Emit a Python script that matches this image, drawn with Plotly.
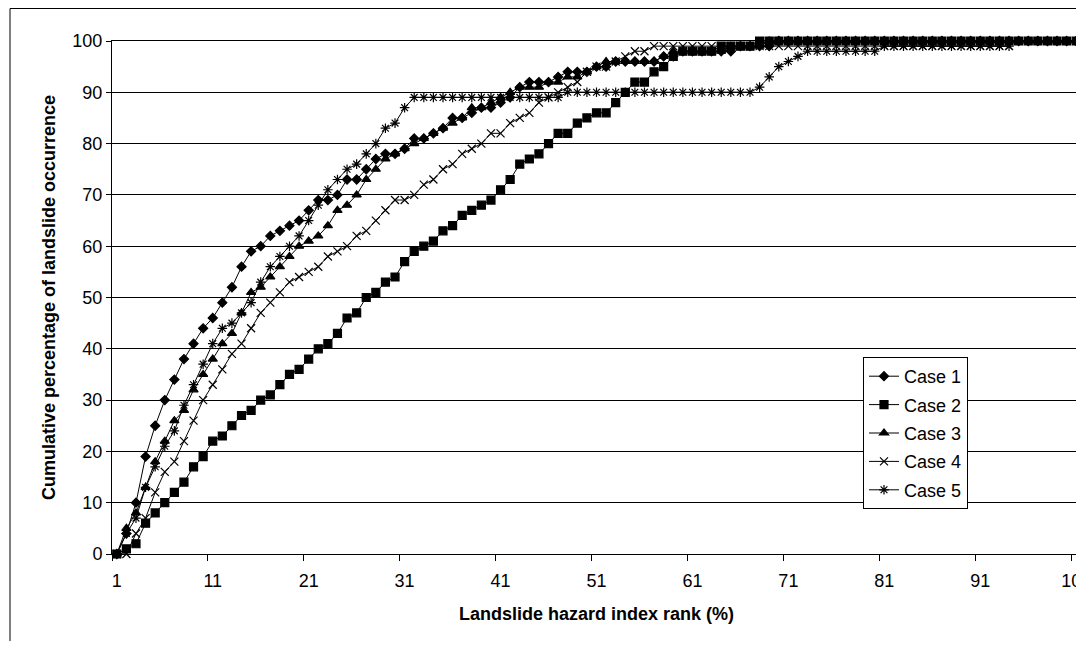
import plotly.graph_objects as go

# ---------------- data ----------------
ranks = [str(r) for r in range(1, 102)]
tick_labels = ["1", "11", "21", "31", "41", "51", "61", "71", "81", "91", "101"]
y_ticks = [0, 10, 20, 30, 40, 50, 60, 70, 80, 90, 100]

case1 = [0, 4, 10, 19, 25, 30, 34, 38, 41, 44,
         46, 49, 52, 56, 59, 60, 62, 63, 64, 65,
         67, 69, 69, 70, 73, 73, 75, 77, 78, 78,
         79, 81, 81, 82, 83, 85, 85, 86, 87, 87,
         88, 89, 91, 92, 92, 92, 93, 94, 94, 94,
         95, 95, 96, 96, 96, 96, 96, 97, 97, 98,
         98, 98, 98, 98, 98, 99, 99, 99, 99, 100,
         100, 100, 100, 100, 100, 100, 100, 100, 100, 100,
         100, 100, 100, 100, 100, 100, 100, 100, 100, 100,
         100, 100, 100, 100, 100, 100, 100, 100, 100, 100,
         100]

case2 = [0, 1, 2, 6, 8, 10, 12, 14, 17, 19,
         22, 23, 25, 27, 28, 30, 31, 33, 35, 36,
         38, 40, 41, 43, 46, 47, 50, 51, 53, 54,
         57, 59, 60, 61, 63, 64, 66, 67, 68, 69,
         71, 73, 76, 77, 78, 80, 82, 82, 84, 85,
         86, 86, 88, 90, 92, 92, 94, 95, 97, 98,
         98, 98, 98, 99, 99, 99, 99, 100, 100, 100,
         100, 100, 100, 100, 100, 100, 100, 100, 100, 100,
         100, 100, 100, 100, 100, 100, 100, 100, 100, 100,
         100, 100, 100, 100, 100, 100, 100, 100, 100, 100,
         100]

case3 = [0, 5, 8, 13, 18, 22, 26, 28, 32, 35,
         38, 41, 43, 47, 51, 52, 54, 56, 58, 60,
         61, 62, 64, 67, 68, 70, 73, 75, 77, 78,
         79, 80, 81, 82, 83, 84, 85, 87, 87, 88,
         89, 90, 91, 91, 91, 92, 92, 93, 93, 94,
         95, 96, 96, 96, 96, 96, 96, 97, 98, 98,
         98, 98, 98, 98, 99, 99, 99, 99, 100, 100,
         100, 100, 100, 100, 100, 100, 100, 100, 100, 100,
         100, 100, 100, 100, 100, 100, 100, 100, 100, 100,
         100, 100, 100, 100, 100, 100, 100, 100, 100, 100,
         100]

case4 = [0, 0, 4, 7, 12, 16, 18, 22, 26, 30,
         33, 36, 39, 41, 44, 47, 49, 51, 53, 54,
         55, 56, 58, 59, 60, 62, 63, 65, 67, 69,
         69, 70, 72, 73, 75, 76, 78, 79, 80, 82,
         82, 84, 85, 86, 88, 89, 90, 91, 92, 94,
         95, 95, 96, 97, 98, 98, 99, 99, 99, 99,
         99, 99, 99, 99, 99, 99, 99, 99, 99, 99,
         99, 99, 99, 99, 99, 99, 99, 99, 99, 99,
         99, 99, 99, 99, 99, 99, 99, 99, 99, 99,
         99, 99, 99, 99]

case5 = [0, 4, 7, 13, 17, 21, 24, 29, 33, 37,
         41, 44, 45, 47, 49, 53, 56, 58, 60, 62,
         65, 68, 71, 73, 75, 76, 78, 80, 83, 84,
         87, 89, 89, 89, 89, 89, 89, 89, 89, 89,
         89, 89, 89, 89, 89, 89, 89, 90, 90, 90,
         90, 90, 90, 90, 90, 90, 90, 90, 90, 90,
         90, 90, 90, 90, 90, 90, 90, 91, 93, 95,
         96, 97, 98, 98, 98, 98, 98, 98, 98, 98,
         99, 99, 99, 99, 99, 99, 99, 99, 99, 99,
         99, 99, 99, 99]

series_names = ["Case 1", "Case 2", "Case 3", "Case 4", "Case 5"]
series_values = [case1, case2, case3, case4, case5]

# ---------------- styling ----------------
FONT = "Liberation Sans, Arial, sans-serif"
symbols = ["diamond", "square", "triangle-up", "x-thin-open", "asterisk-open"]
sizes = [7, 8, 8, 8, 8]

fig = go.Figure()
for name, vals, sym, sz in zip(series_names, series_values, symbols, sizes):
    fig.add_trace(go.Scatter(
        x=ranks[:len(vals)], y=vals, name=name, mode="lines+markers",
        line=dict(color="black", width=1),
        marker=dict(symbol=sym, size=sz, color="black",
                    line=dict(color="black", width=1.2)),
        cliponaxis=False, legendgroup=name,
    ))

# page body has an 8px margin: figure is sized so nothing overflows the window
OFF = 8
W, H = 1074, 633
L, R, T = 104, 1, 33
pw, ph = W - L - R, 513
B = H - T - ph

def px_x(p):  # reference-picture pixel -> paper x
    return (p - OFF - L) / pw

def px_y(p):  # reference-picture pixel -> paper y
    return (T + ph - (p - OFF)) / ph

fig.update_layout(
    width=W, height=H,
    margin=dict(l=L, r=R, t=T, b=B, pad=0, autoexpand=False),
    paper_bgcolor="white", plot_bgcolor="white",
    font=dict(family=FONT, size=18, color="black"),
    showlegend=True,
    legend=dict(
        x=px_x(863), y=px_y(357), xanchor="left", yanchor="top",
        bgcolor="white", bordercolor="black", borderwidth=1,
        font=dict(family=FONT, size=18, color="black"),
        traceorder="grouped", tracegroupgap=2,
    ),
    xaxis=dict(
        type="category", categoryorder="array", categoryarray=ranks,
        range=[-0.5, 100.5], automargin=False,
        tickmode="array", tickvals=tick_labels, ticktext=tick_labels,
        tickangle=0, ticklabelstandoff=10,
        tickson="boundaries", ticks="outside", ticklen=6, tickcolor="black",
        showgrid=False, showline=True, linecolor="black", linewidth=1, mirror=True,
        tickfont=dict(family=FONT, size=18, color="black"),
        title=dict(text="<b>Landslide hazard index rank (%)</b>",
                   font=dict(family=FONT, size=18, color="black"), standoff=17),
        fixedrange=True,
    ),
    yaxis=dict(
        range=[0, 100], tickmode="array", tickvals=y_ticks, automargin=False,
        ticks="outside", ticklen=5, tickcolor="black",
        showgrid=True, gridcolor="black", gridwidth=1,
        showline=True, linecolor="black", linewidth=1, mirror=True,
        zeroline=False,
        tickfont=dict(family=FONT, size=18, color="black"),
        title=dict(text="<b>Cumulative percentage of landslide occurrence</b>",
                   font=dict(family=FONT, size=18, color="black"), standoff=12),
        fixedrange=True,
    ),
    shapes=[dict(type="rect", xref="paper", yref="paper",
                 x0=px_x(10), y0=px_y(700), x1=px_x(1120), y1=px_y(8.5),
                 line=dict(color="black", width=1), fillcolor="rgba(0,0,0,0)",
                 layer="below")],
)

fig.write_html("out.html")
